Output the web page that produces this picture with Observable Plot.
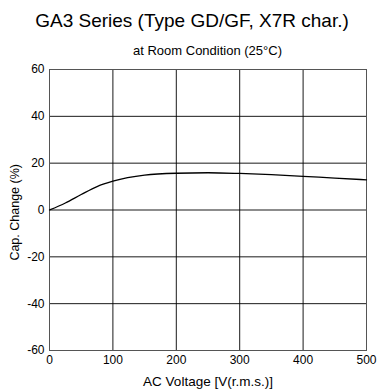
<!DOCTYPE html>
<html>
<head>
<meta charset="utf-8">
<script src="https://cdn.jsdelivr.net/npm/d3@7"></script>
<script src="https://cdn.jsdelivr.net/npm/@observablehq/plot@0.6"></script>
<style>
  body { margin: 0; background: #fff; width: 378px; height: 389px; overflow: hidden; font-family: "Liberation Sans", Arial, sans-serif; }
  #title { position: absolute; left: 0; top: 8px; width: 384px; text-align: center; font-size: 19px; line-height: 26px; color: #000; }
  #subtitle { position: absolute; left: 49px; top: 42px; width: 317px; text-align: center; font-size: 13px; line-height: 18px; color: #000; }
  #chart { position: absolute; left: 0; top: 60px; }
</style>
</head>
<body>
<div id="title">GA3 Series (Type GD/GF, X7R char.)</div>
<div id="subtitle">at Room Condition (25°C)</div>
<div id="chart"></div>
<script>
const voltage   = [0, 25, 50, 75, 100, 150, 200, 250, 300, 350, 400, 450, 500];
const capChange = [0, 3.0, 6.6, 10.0, 12.3, 14.9, 15.7, 15.9, 15.6, 15.1, 14.4, 13.6, 12.9];
const xTicks = [0, 100, 200, 300, 400, 500];
const yTicks = [-60, -40, -20, 0, 20, 40, 60];

const data = voltage.map((v, i) => ({v, c: capChange[i]}));

const chart = Plot.plot({
  width: 378,
  height: 329,
  marginTop: 9,
  marginLeft: 49,
  marginRight: 12,
  marginBottom: 39,
  style: {fontFamily: "'Liberation Sans', Arial, sans-serif", fontSize: "12px", color: "#000", background: "#fff"},
  x: {domain: [0, 500]},
  y: {domain: [-60, 60]},
  marks: [
    Plot.gridX(xTicks, {stroke: "#000", strokeOpacity: 0.9, strokeWidth: 1}),
    Plot.gridY(yTicks, {stroke: "#000", strokeOpacity: 0.9, strokeWidth: 1}),
    Plot.frame({stroke: "#555", strokeWidth: 1}),
    Plot.axisX(xTicks, {tickSize: 0, tickPadding: 5, tickFormat: d => String(d), label: null, fontSize: 12}),
    Plot.axisY(yTicks, {tickSize: 0, tickPadding: 5, tickFormat: d => String(d), label: null, fontSize: 12}),
    Plot.text(["AC Voltage [V(r.m.s.)]"], {frameAnchor: "bottom", dy: 31, fontSize: 13.5, lineAnchor: "middle"}),
    Plot.text([{x: 0, y: -1}], {x: "x", y: "y", text: () => "Cap. Change (%)", dx: -35, rotate: -90, fontSize: 12.5, lineAnchor: "middle"}),
    Plot.line(data, {x: "v", y: "c", curve: "monotone-x", stroke: "#000", strokeWidth: 1.3})
  ]
});
document.getElementById("chart").appendChild(chart);
</script>
</body>
</html>
